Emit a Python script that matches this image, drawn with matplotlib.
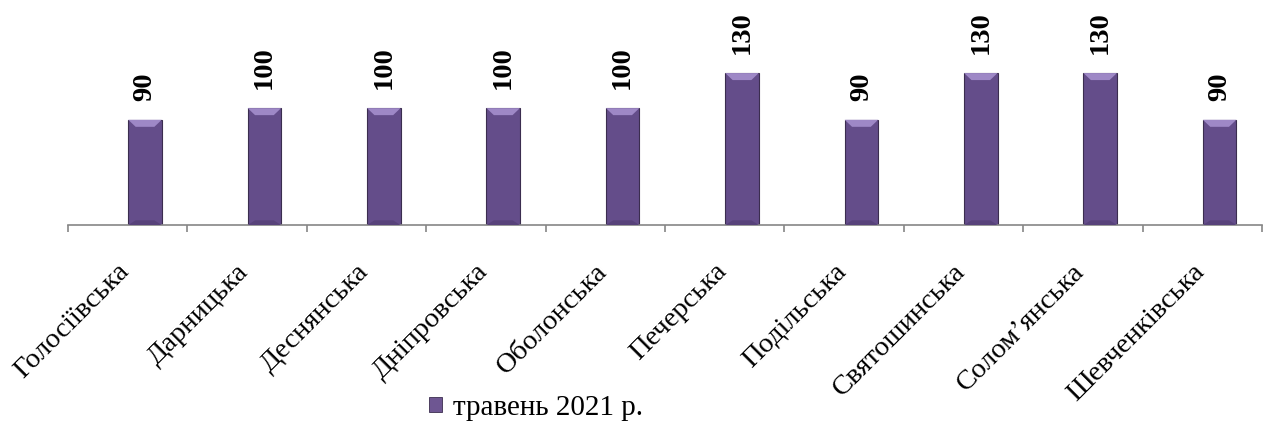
import matplotlib
matplotlib.use("Agg")
import matplotlib.pyplot as plt
from matplotlib.patches import Polygon, Patch
from matplotlib.transforms import ScaledTranslation
import numpy as np

categories = ["Голосіївська", "Дарницька", "Деснянська", "Дніпровська", "Оболонська",
              "Печерська", "Подільська", "Святошинська", "Солом’янська", "Шевченківська"]
values = [90, 100, 100, 100, 100, 130, 90, 130, 130, 90]
series_name = "травень 2021 р."

plt.rcParams['font.family'] = ['Liberation Serif', 'DejaVu Serif']

W, H = 1267, 425
fig = plt.figure(figsize=(W / 100, H / 100), dpi=100)
ax = fig.add_axes([68 / W, (H - 225) / H, (1262 - 68) / W, 187 / H])

x = np.arange(len(categories))
bar_shift = 0.145  # bars sit right of the category centre in the original
bars = ax.bar(x + bar_shift, values, width=0.28, color="#644d8a", edgecolor="#3b2d4f",
              linewidth=0.8, zorder=2)

# light bevel on the top of each bar
for b in bars:
    x0, y0 = b.get_x(), b.get_y()
    w, h = b.get_width(), b.get_height()
    bev_w = w * 0.22
    bev_h = 6.0
    top = y0 + h
    ax.add_patch(Polygon([[x0, top], [x0 + w, top], [x0 + w - bev_w, top - bev_h],
                          [x0 + bev_w, top - bev_h]], closed=True,
                         facecolor="#9e88c6", edgecolor="none", zorder=3))
    ax.add_patch(Polygon([[x0, y0], [x0 + w, y0], [x0 + w - bev_w, y0 + 4], [x0 + bev_w, y0 + 4]],
                         closed=True, facecolor="#57427a", edgecolor="none", zorder=3))

for xi, v in zip(x + bar_shift, values):
    ax.annotate(str(v), (xi, v), xytext=(0, 13.5), textcoords="offset points",
                rotation=90, ha="center", va="bottom", fontsize=20.5, fontweight="bold")

ax.set_xlim(-0.5, len(categories) - 0.5)
ax.set_ylim(0, 160)
ax.set_yticks([])
for s in ["top", "right", "left"]:
    ax.spines[s].set_visible(False)
ax.spines["bottom"].set_color("#868686")
ax.spines["bottom"].set_linewidth(1.2)

ax.set_xticks(np.arange(len(categories) + 1) - 0.5, minor=True)
ax.set_xticks(x)
ax.set_xticklabels([])
ax.tick_params(axis="x", which="major", length=0)
ax.tick_params(axis="x", which="minor", length=5, width=1.2, color="#868686", direction="out")

offset = ScaledTranslation(-2 / 100, -43 / 100, fig.dpi_scale_trans)
for xi, c in zip(x, categories):
    ax.text(xi, 0, c, rotation=45, ha="right", va="center", rotation_mode="anchor",
            fontsize=20.5, transform=ax.transData + offset)

handle = Patch(facecolor="#6e5692", edgecolor="#3b2d4f", linewidth=0.6)
fig.legend([handle], [series_name], loc="center", bbox_to_anchor=(536 / W, 1 - 408 / H),
           frameon=False, fontsize=21, handlelength=0.45, handleheight=0.45, handletextpad=0.35)

fig.savefig("out.png", dpi=100)
